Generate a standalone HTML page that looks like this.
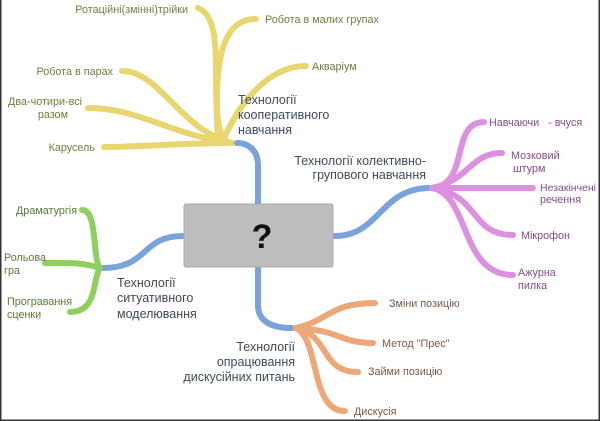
<!DOCTYPE html>
<html><head><meta charset="utf-8"><style>
html,body{margin:0;padding:0;background:#fff}
svg{display:block}
text{font-family:"Liberation Sans",sans-serif;font-size:10.8px}
</style></head><body>
<svg width="600" height="421" viewBox="0 0 600 421" xmlns="http://www.w3.org/2000/svg">
<path d="M0.75,0 L0.75,420.25 L599.25,420.25 L599.25,0" fill="none" stroke="#333" stroke-width="1.5"/>
<g fill="none" stroke-linecap="round">
<g stroke="#e8d66e" stroke-width="6">
<path d="M232,143 C180,143 140,147 104,147"/>
<path d="M232,143 C170,135 140,108 88,108"/>
<path d="M232,143 C180,130 160,71 122,71"/>
<path d="M225,143 C205,110 230,20 198,8"/>
<path d="M218,143 C215,80 215,19 256,19"/>
<path d="M222,143 C240,100 270,66 306,66"/>
</g>
<g stroke="#7aa3de" stroke-width="6">
<path d="M258,204 L258,165 C258,150 248,143 237,143"/>
<path d="M335,236 C380,236 380,188 430,188"/>
<path d="M183,236 C140,236 150,268 102,268"/>
<path d="M258,268 L258,305 C258,322 272,328 292,328"/>
</g>
<g stroke="#dd90e0" stroke-width="6">
<path d="M432,188 C470,185 450,122 484,122"/>
<path d="M432,188 C470,180 470,153 502,153"/>
<path d="M432,188 L533,188"/>
<path d="M432,188 C480,195 470,235 513,235"/>
<path d="M432,188 C470,195 460,275 513,275"/>
</g>
<g stroke="#8fcf5e" stroke-width="6">
<path d="M100,268 C92,258 98,210 82,210"/>
<path d="M100,268 C80,262 70,263 45,263"/>
<path d="M100,268 C92,280 98,312 70,312"/>
</g>
<g stroke="#eea776" stroke-width="6">
<path d="M296,328 C330,320 330,303 375,303"/>
<path d="M296,328 C340,330 340,343 373,343"/>
<path d="M296,328 C330,335 320,372 358,372"/>
<path d="M296,328 C320,340 310,411 345,411"/>
</g>
</g>
<rect x="184" y="204" width="149" height="63" rx="2" fill="#bdbdbd" stroke="#aaa"/>
<text x="262" y="248" text-anchor="middle" style="font-size:34px;font-weight:bold" fill="#111">?</text>

<g fill="#7a7a3e">
<text x="95" y="151" text-anchor="end">Карусель</text>
<text x="82" y="105" text-anchor="end">Два-чотири-всі</text>
<text x="68" y="118" text-anchor="end">разом</text>
<text x="113" y="75" text-anchor="end">Робота в парах</text>
<text x="188" y="13" text-anchor="end">Ротаційні(змінні)трійки</text>
<text x="265" y="23">Робота в малих групах</text>
<text x="312" y="70">Акваріум</text>
</g>
<g fill="#3f4a5a">
<text x="238" y="104" style="font-size:12.5px">Технології</text>
<text x="238" y="119" style="font-size:12.5px">кооперативного</text>
<text x="238" y="134" style="font-size:12.5px">навчання</text>
<text x="426" y="165" text-anchor="end" style="font-size:12.5px">Технології колективно-</text>
<text x="426" y="179" text-anchor="end" style="font-size:12.5px">групового навчання</text>
<text x="117" y="287" style="font-size:12.5px">Технології</text>
<text x="117" y="302" style="font-size:12.5px">ситуативного</text>
<text x="117" y="318" style="font-size:12.5px">моделювання</text>
<text x="295" y="351" text-anchor="end" style="font-size:12.5px">Технології</text>
<text x="295" y="366" text-anchor="end" style="font-size:12.5px">опрацювання</text>
<text x="295" y="381" text-anchor="end" style="font-size:12.5px">дискусійних питань</text>
</g>
<g fill="#8a4a8a">
<text x="489" y="126">Навчаючи &#160;&#160;- вчуся</text>
<text x="511" y="159">Мозковий</text>
<text x="513" y="172">штурм</text>
<text x="540" y="191" style="font-size:10.5px">Незакінчені</text>
<text x="540" y="203">речення</text>
<text x="521" y="239">Мікрофон</text>
<text x="518" y="276">Ажурна</text>
<text x="518" y="289">пилка</text>
</g>
<g fill="#5a7a3a">
<text x="16" y="214">Драматургія</text>
<text x="4" y="261">Рольова</text>
<text x="4" y="274">гра</text>
<text x="7" y="305">Програвання</text>
<text x="7" y="318">сценки</text>
</g>
<g fill="#7a5a4a">
<text x="389" y="307">Зміни позицію</text>
<text x="382" y="347">Метод "Прес"</text>
<text x="368" y="375">Займи позицію</text>
<text x="354" y="415">Дискусія</text>
</g>
</svg>
</body></html>
